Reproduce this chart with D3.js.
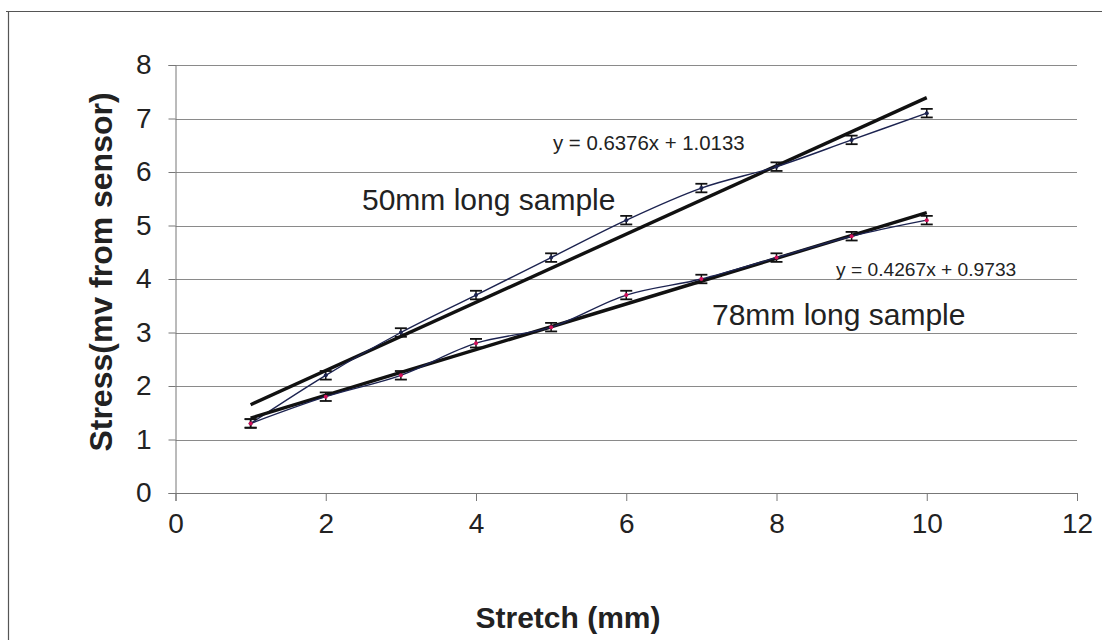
<!DOCTYPE html>
<html><head><meta charset="utf-8">
<script src="https://cdn.jsdelivr.net/npm/d3@7"></script>
<style>body{margin:0;background:#fff;} text{font-family:Arial,"Liberation Sans",sans-serif;}</style>
</head><body><svg id="c" width="1102" height="640"></svg>
<script>
const stretch = [1,2,3,4,5,6,7,8,9,10];
const stress50 = [1.3,2.2,3.0,3.7,4.4,5.1,5.7,6.1,6.6,7.1];
const stress78 = [1.3,1.8,2.2,2.8,3.1,3.7,4.0,4.4,4.8,5.1];
const err50 = [0.08,0.08,0.08,0.08,0.08,0.08,0.08,0.08,0.08,0.08];
const err78 = [0.08,0.08,0.08,0.08,0.08,0.08,0.08,0.08,0.08,0.08];
const trend50 = [0.6376, 1.0133];
const trend78 = [0.4267, 0.9733];
const xTicks = [0,2,4,6,8,10,12];
const yTicks = [0,1,2,3,4,5,6,7,8];

const svg = d3.select("#c");
const x = d3.scaleLinear().domain([0,12]).range([175.5,1077]);
const y = d3.scaleLinear().domain([0,8]).range([493,65]);

// outer frame
svg.append("line").attr("x1",6).attr("x2",1102).attr("y1",11.5).attr("y2",11.5).attr("stroke","#555").attr("stroke-width",1.2);
svg.append("line").attr("x1",8.5).attr("x2",8.5).attr("y1",11).attr("y2",640).attr("stroke","#555").attr("stroke-width",1.2);

// gridlines
svg.append("g").selectAll("line").data(yTicks.filter(d=>d>0)).join("line")
  .attr("x1",x(0)).attr("x2",x(12)).attr("y1",d=>Math.round(y(d))+0.5).attr("y2",d=>Math.round(y(d))+0.5)
  .attr("stroke","#8a8a8a").attr("stroke-width",1);

// axes
const yAxis = d3.axisLeft(y).tickValues(yTicks).tickSize(7).tickPadding(17).tickFormat(d3.format("d"));
const gy = svg.append("g").attr("transform",`translate(${x(0)},0)`).call(yAxis);
gy.select(".domain").attr("stroke","#777");
gy.selectAll(".tick line").attr("stroke","#777");
gy.selectAll("text").attr("font-size",28).attr("fill","#222");

const xAxis = d3.axisBottom(x).tickValues(xTicks).tickSize(8).tickPadding(12).tickFormat(d3.format("d"));
const gx = svg.append("g").attr("transform",`translate(0,${y(0)})`).call(xAxis);
gx.select(".domain").attr("stroke","#777");
gx.selectAll(".tick line").attr("stroke","#777");
gx.selectAll("text").attr("font-size",28).attr("fill","#222");

// axis titles
svg.append("text").attr("transform","translate(112,272) rotate(-90)").attr("text-anchor","middle")
  .attr("font-size",32).attr("font-weight","bold").attr("fill","#222").text("Stress(mv from sensor)");
svg.append("text").attr("x",568).attr("y",628).attr("text-anchor","middle")
  .attr("font-size",30).attr("font-weight","bold").attr("fill","#222").text("Stretch (mm)");

function drawSeries(vals, errs, coef, markerColor){
  const pts = stretch.map((s,i)=>({x:s,y:vals[i],e:errs[i]}));
  const tx = [stretch[0], stretch[stretch.length-1]];
  svg.append("path").datum(tx.map(t=>[t, coef[0]*t+coef[1]]))
    .attr("d", d3.line().x(d=>x(d[0])).y(d=>y(d[1])))
    .attr("stroke","#111").attr("stroke-width",3.4).attr("fill","none");
  svg.append("path").datum(pts)
    .attr("d", d3.line().x(d=>x(d.x)).y(d=>y(d.y)).curve(d3.curveCatmullRom.alpha(0.5)))
    .attr("stroke","#1c2350").attr("stroke-width",1.4).attr("fill","none");
  const g = svg.append("g");
  pts.forEach(p=>{
    g.append("line").attr("x1",x(p.x)).attr("x2",x(p.x)).attr("y1",y(p.y-p.e)).attr("y2",y(p.y+p.e)).attr("stroke","#111").attr("stroke-width",1.5);
    [p.y-p.e,p.y+p.e].forEach(v=>g.append("line").attr("x1",x(p.x)-6).attr("x2",x(p.x)+6).attr("y1",y(v)).attr("y2",y(v)).attr("stroke","#111").attr("stroke-width",1.8));
    g.append("circle").attr("cx",x(p.x)).attr("cy",y(p.y)).attr("r",2).attr("fill",markerColor);
  });
}
drawSeries(stress50, err50, trend50, "#1c2350");
drawSeries(stress78, err78, trend78, "#d0105a");

// annotations
svg.append("text").attr("x",553).attr("y",150).attr("font-size",20.4).attr("fill","#222").text("y = 0.6376x + 1.0133");
svg.append("text").attr("x",362).attr("y",210).attr("font-size",30).attr("fill","#222").text("50mm long sample");
svg.append("text").attr("x",836).attr("y",276).attr("font-size",19.2).attr("fill","#222").text("y = 0.4267x + 0.9733");
svg.append("text").attr("x",712).attr("y",325).attr("font-size",30).attr("fill","#222").text("78mm long sample");
</script></body></html>
